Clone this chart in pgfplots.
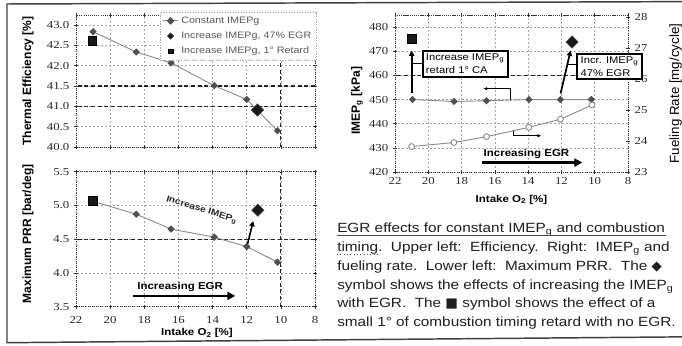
\documentclass[border=0pt]{standalone}
\usepackage{fontspec}
\setmainfont{Liberation Sans}[FakeStretch=1.15]
\newfontfamily\tickfont{Liberation Serif}[FakeStretch=1.2]
\newfontfamily\rotfont{Liberation Sans}
\newfontfamily\sym{DejaVu Sans}
\usepackage{pgfplots}
\pgfplotsset{compat=1.18}
\usetikzlibrary{arrows.meta}
\definecolor{lgray}{HTML}{8C8C8C}
\definecolor{mgray}{HTML}{505050}
\tikzset{heavy/.style={dash pattern=on 3pt off 2pt, black!85, line width=0.9pt},
  ylab/.style={font=\rotfont\bfseries\fontsize{9}{10}\selectfont, anchor=center},
  xlab/.style={font=\bfseries\fontsize{7.5}{9}\selectfont, anchor=center}}
\pgfplotsset{
  base/.style={
    scale only axis, x dir=reverse, xmin=8, xmax=22, xtick={8,10,12,14,16,18,20,22},
    /pgf/number format/assume math mode=true,
    tick label style={font=\tickfont\fontsize{8}{9}\selectfont, text=black!85},
    grid=major, major grid style={dash pattern=on 1.5pt off 1.5pt, gray!70, line width=0.4pt},
    axis line style={densely dotted, black!80, line width=0.6pt},
    tick style={black!80, line width=0.5pt}, tick align=center, major tick length=3pt,
    clip=false,
  },
  constline/.style={lgray, line width=0.7pt, solid, mark=square*, mark size=1.6pt,
    mark options={rotate=45, fill=mgray, draw=mgray, solid}},
  bigdiam/.style={only marks, mark=square*, mark size=3.3pt,
    mark options={rotate=45, fill=black!90, draw=mgray, solid}},
  bigsq/.style={only marks, mark=square*, mark size=3.3pt, mark options={fill=black!90, draw=black, solid}},
}
\newcommand{\egr}{\bfseries\fontsize{7.5}{9}\selectfont}
\begin{document}
\begin{tikzpicture}[x=0.75pt,y=0.75pt]
\useasboundingbox (0,0) rectangle (682,346);
% outer frame
\draw[black!75, line width=1.1pt] (690,344.4)--(7,342)--(7,3.3)--(690,9.2);

% ---------------- top-left: thermal efficiency
\begin{axis}[base, at={(57pt,149.25pt)}, anchor=south west, width=179.25pt, height=99pt,
  ymin=40, ymax=43.25, ytick={40,40.5,41,41.5,42,42.5,43}, xticklabels={},
  yticklabel style={/pgf/number format/.cd, fixed, fixed zerofill, precision=1},
  extra y ticks={41,41.5}, extra y tick labels={}, extra y tick style={major grid style={heavy}},
  extra x ticks={10}, extra x tick labels={}, extra x tick style={major grid style={heavy}},
  ylabel={Thermal Efficiency [\%]},
  ylabel style={ylab, at={(axis description cs:-0.201,0.5)}},
  legend style={at={(rel axis cs:1.008,1.025)}, anchor=north east, draw=gray!70,
    dash pattern=on 1pt off 1pt, fill=white, font=\fontsize{7}{8}\selectfont, text=black!65,
    inner xsep=2pt, inner ysep=1.5pt, row sep=1pt, cells={anchor=west}},
  legend image code/.code={\draw[mark repeat=2,mark phase=2,#1] plot coordinates {(0cm,0cm)(0.2cm,0cm)(0.4cm,0cm)};},
  legend image post style={mark size=1.7pt},
]
\addplot[constline] coordinates {(21,42.84)(18.47,42.34)(16.43,42.07)(13.9,41.51)(12.0,41.17)(10.2,40.40)};
\addlegendentry{Constant IMEPg}
\addplot[bigdiam] coordinates {(11.37,40.91)};
\addlegendentry{Increase IMEPg, 47\% EGR}
\addplot[bigsq] coordinates {(21.05,42.61)};
\addlegendentry{Increase IMEPg, 1° Retard}
\end{axis}

% ---------------- bottom-left: max PRR
\begin{axis}[base, at={(57pt,29.475pt)}, anchor=south west, width=179.25pt, height=101.25pt,
  ymin=3.5, ymax=5.5, ytick={3.5,4,4.5,5,5.5},
  yticklabel style={/pgf/number format/.cd, fixed, fixed zerofill, precision=1},
  xticklabel style={yshift=-2pt},
  extra y ticks={4.5}, extra y tick labels={}, extra y tick style={major grid style={heavy}},
  extra x ticks={10}, extra x tick labels={}, extra x tick style={major grid style={heavy}},
  ylabel={Maximum PRR [bar/deg]},
  ylabel style={ylab, at={(axis description cs:-0.201,0.54)}},
  xlabel={Intake O\textsubscript{2} [\%]},
  xlabel style={xlab, at={(axis description cs:0.506,-0.195)}},
]
\addplot[constline] coordinates {(21,5.06)(18.47,4.87)(16.43,4.65)(13.9,4.53)(12.0,4.39)(10.2,4.16)};
\addplot[bigdiam] coordinates {(11.35,4.93)};
\addplot[bigsq] coordinates {(21.0,5.07)};
\draw[-{Triangle[length=4pt,width=4pt]}, line width=1.2pt] (axis cs:11.95,4.43)--(axis cs:11.62,4.77);
\node[rotate=-17, inner sep=0pt, font=\bfseries\fontsize{6.6}{8}\selectfont, text=black!85] at (axis cs:14.65,4.93) {Increase IMEP\textsubscript{g}};
\node[font=\egr] at (axis cs:15.9,3.79) {Increasing EGR};
\draw[-{Triangle[length=6pt,width=6pt]}, line width=1.7pt] (axis cs:18.67,3.66)--(axis cs:12.67,3.66);
\end{axis}

% ---------------- right: IMEPg and fueling rate
\begin{axis}[base, at={(296.25pt,130.5pt)}, anchor=south west, width=174.75pt, height=117.75pt,
  ymin=420, ymax=485, ytick={420,430,440,450,460,470,480}, axis y line*=left,
  xticklabel style={yshift=1pt},
  extra y ticks={460}, extra y tick labels={}, extra y tick style={major grid style={heavy}},
  ylabel={IMEP\textsubscript{g} [kPa]},
  ylabel style={ylab, at={(axis description cs:-0.163,0.455)}},
  xlabel={Intake O\textsubscript{2} [\%]},
  xlabel style={xlab, at={(axis description cs:0.5,-0.175)}},
]
\draw[line width=0.6pt, densely dotted, black!80] (rel axis cs:0,1)--(rel axis cs:1,1);
\addplot[constline] coordinates {(20.95,450)(18.45,449.2)(16.5,449.5)(13.95,450)(12.06,450)(10.2,450)};
\addplot[bigdiam] coordinates {(11.36,473.8)};
\addplot[bigsq] coordinates {(21.0,475)};
\draw[-{Triangle[length=4pt,width=4pt]}, line width=1.3pt] (axis cs:21,452.5)--(axis cs:21,470.3);
\draw[-{Triangle[length=4pt,width=4pt]}, line width=1.3pt] (axis cs:12.05,452.5)--(axis cs:11.45,470.3);
\draw[line width=0.5pt] (axis cs:21,464.9)--(axis cs:20.4,464.9);
\draw[line width=0.5pt] (axis cs:11.6,464.5)--(axis cs:11.1,464.5);
\coordinate (boxA) at (axis cs:20.4,470.4);
\coordinate (boxB) at (axis cs:11.1,469.3);
\draw[-{Latex[length=3pt,width=2.5pt]}, line width=0.5pt] (axis cs:15.1,450)--(axis cs:15.1,454.5)--(axis cs:16.7,454.5);
\draw[-{Latex[length=3pt,width=2.5pt]}, line width=0.5pt] (axis cs:14.9,437.4)--(axis cs:14.9,435)--(axis cs:13.2,435);
\node[font=\egr] at (axis cs:14.1,427.4) {Increasing EGR};
\draw[-{Triangle[length=6pt,width=6pt]}, line width=1.7pt] (axis cs:16.8,423.9)--(axis cs:10.74,423.9);
\end{axis}
\begin{axis}[base, at={(296.25pt,130.5pt)}, anchor=south west, width=174.75pt, height=117.75pt,
  grid=none, axis x line=none, axis y line*=right,
  ymin=23, ymax=28.06, ytick={23,24,25,26,27,28},
  ylabel={Fueling Rate [mg/cycle]},
  ylabel style={font=\rotfont\fontsize{10}{12}\selectfont, anchor=center, inner sep=0pt, at={(axis description cs:1.205,0.5)}},
]
\addplot[lgray, line width=0.7pt, mark=*, mark size=2.2pt, mark options={fill=white, draw=lgray, solid}]
  coordinates {(21,23.82)(18.46,23.95)(16.5,24.14)(13.96,24.44)(12.06,24.70)(10.16,25.16)};
\end{axis}
\node[draw, line width=1.5pt, fill=white, align=left, anchor=north west, inner xsep=2.5pt, inner ysep=2pt,
  font=\fontsize{7.3}{10}\selectfont] at (boxA) {Increase IMEP\textsubscript{g}\\retard 1° CA};
\node[draw, line width=1.5pt, fill=white, align=left, anchor=north west, inner xsep=2.5pt, inner ysep=2pt,
  font=\fontsize{7.3}{10}\selectfont] at (boxB) {Incr. IMEP\textsubscript{g}\\47\% EGR};

% ---------------- caption
\begin{scope}[every node/.style={anchor=base west, inner sep=0pt, font=\fontsize{10}{12}\selectfont, text=black!88}]
\node at (337,113.6) {EGR effects for constant IMEP\textsubscript{g} and combustion};
\node at (337,94.7) {timing.\ \ Upper left:\ \ Efficiency.\ \ Right:\ \ IMEP\textsubscript{g} and};
\node at (337,75.8) {fueling rate.\ \ Lower left:\ \ Maximum PRR.\ \ The {\sym ◆}};
\node at (337,56.9) {symbol shows the effects of increasing the IMEP\textsubscript{g}};
\node at (337,38) {with EGR.\ \ The {\sym ■} symbol shows the effect of a};
\node at (337,19.1) {small 1° of combustion timing retard with no EGR.};
\end{scope}
\draw[black!70, line width=0.5pt] (337,110.6)--(666,110.6);
\draw[black!70, line width=0.5pt, dotted] (337,91.7)--(378,91.7);
\end{tikzpicture}
\end{document}
